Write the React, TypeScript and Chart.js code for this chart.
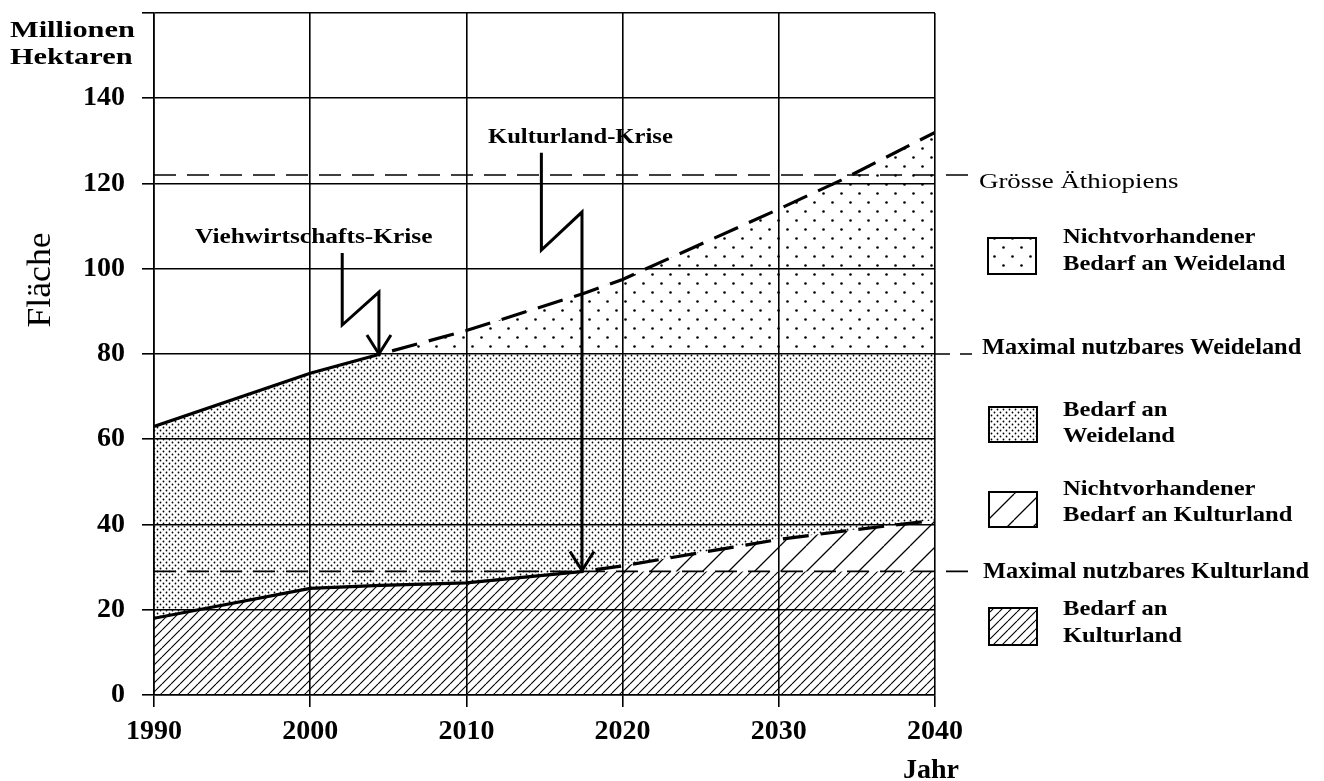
import React, { useEffect, useRef } from 'react';
import { Chart, registerables } from 'chart.js';

Chart.register(...registerables);

// ---- data ----
const years = [1990, 2000, 2004.5, 2010, 2017.5, 2020, 2030, 2034, 2040];
// demand for cropland (Kulturland), million ha
const kulturlandBedarf = [18, 25, 25.7, 26.3, 29, 30.3, 36.5, 38.4, 41];
// cumulative demand cropland + pasture (Weideland), million ha
const weidelandBedarf = [63, 75.5, 80, 85.5, 94.2, 97.5, 114, 120.8, 132];
const maxKulturland = 29;
const maxWeideland = 80;
const groesseAethiopiens = 122;
const xMin = 1990;
const xMax = 2040;
const yMax = 160;
const yTickLabels = [0, 20, 40, 60, 80, 100, 120, 140];
const kulturlandKriseJahr = 2017.5;
const viehKriseJahr = 2004.5;
// crisis arrows (zig-zag), in data units [year, value]
const viehArrow = [[2002.05, 103.7], [2002.05, 86.8], [2004.4, 94.5], [2004.4, 80]];
const kulturArrow = [[2014.8, 127.2], [2014.8, 104.4], [2017.4, 113.3], [2017.4, 29.2]];

const FONT = "'Liberation Serif', 'Times New Roman', serif";

function hatchTile(size: number, lw: number) {
  const c = document.createElement('canvas');
  c.width = size;
  c.height = size;
  const g = c.getContext('2d')!;
  g.strokeStyle = '#000';
  g.lineWidth = lw;
  g.beginPath();
  for (const o of [-size, 0, size]) {
    g.moveTo(o, size);
    g.lineTo(o + size, 0);
  }
  g.stroke();
  return c;
}

function dotTile(size: number, r: number) {
  const c = document.createElement('canvas');
  c.width = size;
  c.height = size;
  const g = c.getContext('2d')!;
  g.fillStyle = '#000';
  for (const [px, py] of [[size * 0.25, size * 0.25], [size * 0.75, size * 0.75]]) {
    g.beginPath();
    g.arc(px, py, r, 0, Math.PI * 2);
    g.fill();
  }
  return c;
}

function drawText(
  ctx: CanvasRenderingContext2D,
  text: string,
  x: number,
  y: number,
  font: string,
  sx: number,
  align: CanvasTextAlign = 'left'
) {
  ctx.save();
  ctx.font = font;
  ctx.fillStyle = '#000';
  ctx.textAlign = align;
  ctx.textBaseline = 'alphabetic';
  ctx.translate(x, y);
  ctx.scale(sx, 1);
  ctx.fillText(text, 0, 0);
  ctx.restore();
}

export default function App() {
  const ref = useRef<HTMLCanvasElement>(null);

  useEffect(() => {
    const canvas = ref.current!;
    const ctx = canvas.getContext('2d')!;
    const denseHatch = ctx.createPattern(hatchTile(9, 1.1), 'repeat')!;
    const sparseHatch = ctx.createPattern(hatchTile(26, 1.3), 'repeat')!;
    const denseDots = ctx.createPattern(dotTile(6, 0.9), 'repeat')!;
    const sparseDots = ctx.createPattern(dotTile(18, 1.3), 'repeat')!;

    const toPts = (vals: number[]) => years.map((x, i) => ({ x, y: vals[i] }));
    const kulturCap = kulturlandBedarf.map((v) => Math.min(v, maxKulturland));
    const weideCap = weidelandBedarf.map((v) => Math.min(v, maxWeideland));

    const drawArrow = (pts: number[][], xs: any, ys: any) => {
      const p = pts.map(([a, b]) => [xs.getPixelForValue(a), ys.getPixelForValue(b)]);
      ctx.save();
      ctx.strokeStyle = '#000';
      ctx.lineWidth = 3;
      ctx.setLineDash([]);
      ctx.lineJoin = 'miter';
      ctx.beginPath();
      p.forEach(([a, b], i) => (i ? ctx.lineTo(a, b) : ctx.moveTo(a, b)));
      ctx.stroke();
      const [tx, ty] = p[p.length - 1];
      ctx.beginPath();
      ctx.moveTo(tx - 12, ty - 19);
      ctx.lineTo(tx, ty);
      ctx.lineTo(tx + 12, ty - 19);
      ctx.stroke();
      ctx.restore();
    };

    const legendBox = (x: number, y: number, w: number, h: number, pat: CanvasPattern) => {
      ctx.save();
      ctx.fillStyle = '#fff';
      ctx.fillRect(x, y, w, h);
      ctx.fillStyle = pat;
      ctx.fillRect(x, y, w, h);
      ctx.strokeStyle = '#000';
      ctx.lineWidth = 2;
      ctx.setLineDash([]);
      ctx.strokeRect(x, y, w, h);
      ctx.restore();
    };

    const overlay = {
      id: 'overlay',
      afterDatasetsDraw(chart: any) {
        const { x, y } = chart.scales;
        ctx.save();
        ctx.strokeStyle = '#000';
        ctx.lineWidth = 1.6;
        ctx.setLineDash([22, 11]);
        for (const v of [groesseAethiopiens, maxKulturland]) {
          const py = y.getPixelForValue(v);
          ctx.beginPath();
          ctx.moveTo(x.left, py);
          ctx.lineTo(x.right + 37, py);
          ctx.stroke();
        }
        const p80 = y.getPixelForValue(maxWeideland);
        ctx.setLineDash([15, 10]);
        ctx.beginPath();
        ctx.moveTo(x.right, p80);
        ctx.lineTo(x.right + 37, p80);
        ctx.stroke();
        ctx.restore();

        drawArrow(viehArrow, x, y);
        drawArrow(kulturArrow, x, y);
      },
      afterDraw(chart: any) {
        const B = (s: number) => `bold ${s}px ${FONT}`;
        const R = (s: number) => `${s}px ${FONT}`;
        drawText(ctx, 'Millionen', 10, 37, B(23), 1.32);
        drawText(ctx, 'Hektaren', 10, 64, B(23), 1.32);
        drawText(ctx, 'Viehwirtschafts-Krise', 195, 243, B(20), 1.27);
        drawText(ctx, 'Kulturland-Krise', 488, 143, B(22), 1.12);
        // rotated axis title
        ctx.save();
        ctx.translate(50, 280);
        ctx.rotate(-Math.PI / 2);
        ctx.scale(1.05, 1);
        ctx.font = R(34);
        ctx.fillStyle = '#000';
        ctx.textAlign = 'center';
        ctx.textBaseline = 'alphabetic';
        ctx.fillText('Fläche', 0, 0);
        ctx.restore();
        drawText(ctx, 'Jahr', 903, 778, B(28), 1.0);

        // right side labels
        drawText(ctx, 'Grösse Äthiopiens', 979, 188, R(21), 1.28);
        drawText(ctx, 'Maximal nutzbares Weideland', 982, 354, B(23), 1.06);
        drawText(ctx, 'Maximal nutzbares Kulturland', 983, 578, B(23), 1.06);

        const LX = 1063;
        const LF = B(21);
        const LS = 1.17;
        legendBox(988, 238, 48, 36, sparseDots);
        drawText(ctx, 'Nichtvorhandener', LX, 243, LF, LS);
        drawText(ctx, 'Bedarf an Weideland', LX, 270, LF, LS);

        legendBox(989, 407, 48, 35, denseDots);
        drawText(ctx, 'Bedarf an', LX, 416, LF, LS);
        drawText(ctx, 'Weideland', LX, 442, LF, LS);

        legendBox(989, 492, 48, 35, sparseHatch);
        drawText(ctx, 'Nichtvorhandener', LX, 495, LF, LS);
        drawText(ctx, 'Bedarf an Kulturland', LX, 521, LF, LS);

        legendBox(989, 608, 48, 37, denseHatch);
        drawText(ctx, 'Bedarf an', LX, 615, LF, LS);
        drawText(ctx, 'Kulturland', LX, 642, LF, LS);
      },
    };

    const tickFont = { family: FONT, size: 28, weight: 'bold' as const };
    const chart = new Chart(canvas, {
      type: 'line',
      data: {
        datasets: [
          {
            label: 'Bedarf an Kulturland',
            data: toPts(kulturCap),
            fill: 'origin',
            backgroundColor: denseHatch,
            borderColor: 'rgba(0,0,0,0)',
            borderWidth: 0,
            pointRadius: 0,
          },
          {
            label: 'Nichtvorhandener Bedarf an Kulturland',
            data: toPts(kulturlandBedarf),
            fill: '-1',
            backgroundColor: sparseHatch,
            borderColor: '#000',
            borderWidth: 3.2,
            pointRadius: 0,
            segment: {
              borderDash: (c: any) => (c.p0.parsed.x >= kulturlandKriseJahr ? [26, 12] : undefined),
              borderDashOffset: (c: any) => (c.p0.parsed.x >= kulturlandKriseJahr ? 26 : 0),
            },
          },
          {
            label: 'Bedarf an Weideland',
            data: toPts(weideCap),
            fill: '-1',
            backgroundColor: denseDots,
            borderColor: 'rgba(0,0,0,0)',
            borderWidth: 0,
            pointRadius: 0,
          },
          {
            label: 'Nichtvorhandener Bedarf an Weideland',
            data: toPts(weidelandBedarf),
            fill: '-1',
            backgroundColor: sparseDots,
            borderColor: '#000',
            borderWidth: 3.2,
            pointRadius: 0,
            segment: {
              borderDash: (c: any) => (c.p0.parsed.x >= viehKriseJahr ? [26, 12] : undefined),
              borderDashOffset: (c: any) => (c.p0.parsed.x >= viehKriseJahr ? 26 : 0),
            },
          },
        ] as any,
      },
      options: {
        animation: false,
        responsive: false,
        devicePixelRatio: 1,
        layout: { padding: { left: 0, right: 389, top: 13, bottom: 0 }, autoPadding: false } as any,
        plugins: { legend: { display: false }, tooltip: { enabled: false } },
        elements: { line: { tension: 0, borderCapStyle: 'butt' } },
        scales: {
          x: {
            type: 'linear',
            min: xMin,
            max: xMax,
            ticks: {
              stepSize: 10,
              color: '#000',
              font: tickFont,
              padding: 8,
              maxRotation: 0,
              callback: (v: any) => String(v),
            },
            grid: { color: '#000', lineWidth: 1.6, tickLength: 12, drawTicks: true },
            border: { display: true, color: '#000', width: 1.6 },
            afterFit: (s: any) => {
              s.height = 86;
              s.paddingLeft = 0;
              s.paddingRight = 0;
            },
          },
          y: {
            type: 'linear',
            min: 0,
            max: yMax,
            ticks: {
              stepSize: 20,
              color: '#000',
              font: tickFont,
              padding: 17,
              callback: (v: any) => (yTickLabels.includes(Number(v)) ? String(v) : ''),
            },
            grid: { color: '#000', lineWidth: 1.6, tickLength: 12, drawTicks: true },
            border: { display: true, color: '#000', width: 1.6 },
            afterFit: (s: any) => {
              s.width = 154;
              s.paddingTop = 0;
              s.paddingBottom = 0;
            },
          },
        },
      } as any,
      plugins: [overlay],
    });
    return () => chart.destroy();
  }, []);

  return (
    <div style={{ position: 'fixed', left: 0, top: 0, width: 1324, height: 781, background: '#fff' }}>
      <canvas ref={ref} width={1324} height={781} style={{ display: 'block' }} />
    </div>
  );
}
